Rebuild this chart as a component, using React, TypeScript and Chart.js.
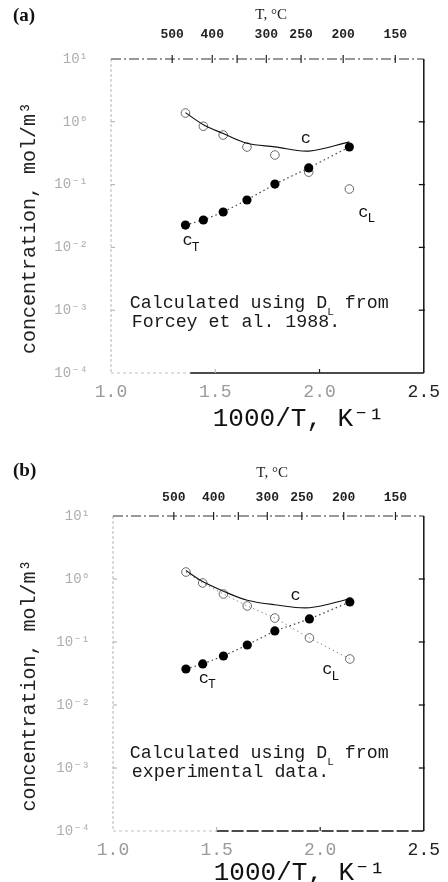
import React, { useEffect, useRef } from 'react';
import { Chart, registerables } from 'chart.js';

Chart.register(...registerables);
Chart.defaults.font.family = "'Liberation Mono', 'DejaVu Sans Mono', monospace";

// ---------- data ----------
// panel (a): D_L from Forcey et al. 1988
const X_A = [1.357, 1.443, 1.538, 1.652, 1.786, 1.948, 2.143];
const CT_A = [0.0227, 0.0273, 0.0366, 0.0569, 0.102, 0.184, 0.397];
const CL_A = [1.38, 0.85, 0.616, 0.397, 0.296, 0.158, 0.085];
const C_A = [1.4, 0.9, 0.65, 0.455, 0.4, 0.342, 0.48];

// panel (b): D_L from experimental data
const X_B = [1.352, 1.433, 1.533, 1.648, 1.781, 1.948, 2.143];
const CT_B = [0.0373, 0.0448, 0.06, 0.0896, 0.15, 0.232, 0.432];
const CL_B = [1.29, 0.865, 0.578, 0.373, 0.24, 0.116, 0.0537];
const C_B = [1.36, 0.91, 0.64, 0.46, 0.39, 0.35, 0.486];

// axes
const BOTTOM_TICKS = [1.0, 1.5, 2.0, 2.5];
const BOTTOM_LABELS = ['1.0', '1.5', '2.0', '2.5'];
const TOP_TEMPS_C = [500, 400, 350, 300, 250, 200, 150];
const TOP_LABELS = ['500', '400', '', '300', '250', '200', '150'];
const Y_TICKS = [1e-4, 1e-3, 1e-2, 1e-1, 1, 10];
const Y_LABELS = ['10⁻⁴', '10⁻³', '10⁻²', '10⁻¹', '10⁰', '10¹'];

// curve labels [x, y] in data units
const LBL_C_A = [1.91, 0.55];
const LBL_CL_A = [2.186, 0.0366];
const LBL_CT_A = [1.343, 0.0127];
const LBL_C_B = [1.857, 0.557];
const LBL_CL_B = [2.01, 0.036];
const LBL_CT_B = [1.414, 0.0268];

const NOTE_LINE1 = ['Calculated using D', 'L', ' from'];
const NOTE_A = 'Forcey et al. 1988.';
const NOTE_B = 'experimental data.';
const NOTE_POS_A = [1.09, 1.3e-3];
const NOTE_POS_B = [1.081, 1.7e-3];

const MONO = "'Liberation Mono', 'DejaVu Sans Mono', monospace";

const framePlugin = {
  id: 'frame',
  afterDraw(chart: any, _args: any, opts: any) {
    const { ctx, chartArea } = chart;
    const { left, right, top, bottom } = chartArea;
    const xs = chart.scales.x;
    const ys = chart.scales.y;
    const seg = (x1: number, y1: number, x2: number, y2: number) => {
      ctx.beginPath();
      ctx.moveTo(x1, y1);
      ctx.lineTo(x2, y2);
      ctx.stroke();
    };
    ctx.save();
    // left axis (faint, dashed)
    ctx.strokeStyle = '#b5b5b5';
    ctx.lineWidth = 1;
    ctx.setLineDash([3, 2]);
    seg(left, top, left, bottom);
    // top axis (dash-dot)
    ctx.strokeStyle = '#333';
    ctx.lineWidth = 1.2;
    ctx.setLineDash([10, 3, 2, 3]);
    seg(left, top, right, top);
    // right axis
    ctx.setLineDash([]);
    ctx.strokeStyle = '#111';
    ctx.lineWidth = 1.5;
    seg(right, top, right, bottom);
    // bottom axis
    const xSolid = xs.getPixelForValue(opts.solidFrom);
    ctx.strokeStyle = '#c0c0c0';
    ctx.lineWidth = 1;
    ctx.setLineDash([3, 3]);
    seg(left, bottom, xSolid, bottom);
    ctx.strokeStyle = '#111';
    ctx.lineWidth = 1.3;
    ctx.setLineDash(opts.bottomDash);
    seg(xSolid, bottom, right, bottom);
    ctx.setLineDash([]);

    // ticks
    Y_TICKS.forEach((v) => {
      const py = ys.getPixelForValue(v);
      if (py > top + 1 && py < bottom - 1) {
        ctx.strokeStyle = '#111';
        ctx.lineWidth = 1.3;
        seg(right - 5, py, right + 1, py);
        ctx.strokeStyle = '#aaa';
        ctx.lineWidth = 1;
        seg(left, py, left + 4, py);
      }
    });
    ctx.strokeStyle = '#222';
    ctx.lineWidth = 1.2;
    TOP_TEMPS_C.forEach((t) => {
      const px = xs.getPixelForValue(1000 / (t + 273.15));
      seg(px, top - 4, px, top + 4);
    });
    [1.5, 2.0].forEach((v) => {
      const px = xs.getPixelForValue(v);
      ctx.strokeStyle = v === 2.0 ? '#222' : '#bbb';
      seg(px, bottom, px, bottom - 4);
    });

    // curve labels
    ctx.fillStyle = '#111';
    ctx.textBaseline = 'middle';
    ctx.textAlign = 'left';
    (opts.labels || []).forEach((l: any) => {
      const px = xs.getPixelForValue(l.pos[0]);
      const py = ys.getPixelForValue(l.pos[1]);
      ctx.font = `17px ${MONO}`;
      ctx.fillText(l.text, px, py);
      if (l.sub) {
        const w = ctx.measureText(l.text).width;
        ctx.font = `13px ${MONO}`;
        ctx.fillText(l.sub, px + w - 1, py + 7);
      }
    });

    // note
    const n = opts.note;
    if (n) {
      const nx = xs.getPixelForValue(n.pos[0]);
      const ny = ys.getPixelForValue(n.pos[1]);
      ctx.fillStyle = '#1a1a1a';
      ctx.font = `18.3px ${MONO}`;
      ctx.fillText(n.line1[0], nx, ny);
      let cx = nx + ctx.measureText(n.line1[0]).width;
      ctx.font = `11px ${MONO}`;
      ctx.fillText(n.line1[1], cx, ny + 9);
      cx += ctx.measureText(n.line1[1]).width;
      ctx.font = `18.3px ${MONO}`;
      ctx.fillText(n.line1[2], cx, ny);
      ctx.fillText(n.line2, nx + 2, ny + 19);
    }
    ctx.restore();
  },
};

const pts = (xs: number[], ys: number[]) => xs.map((x, i) => ({ x, y: ys[i] }));

type PanelCfg = {
  x: number[];
  ct: number[];
  cl: number[];
  c: number[];
  clLine: boolean;
  lay: {
    yWidth: number;
    topHeight: number;
    bottomHeight: number;
    padRight: number;
    topTitlePad: number;
    topTickPad: number;
    bottomTitlePad: number;
  };
  labels: any[];
  note: any;
  solidFrom: number;
  bottomDash: number[];
};

function buildConfig(p: PanelCfg): any {
  const L = p.lay;
  return {
    type: 'line',
    data: {
      datasets: [
        {
          label: 'cT',
          data: pts(p.x, p.ct),
          borderColor: '#444',
          borderWidth: 1.2,
          borderDash: [1.5, 3],
          pointRadius: 4.6,
          pointBackgroundColor: '#000',
          pointBorderColor: '#000',
          pointBorderWidth: 0,
          tension: 0,
        },
        {
          label: 'c',
          data: pts(p.x, p.c),
          borderColor: '#111',
          borderWidth: 1.2,
          pointRadius: 0,
          tension: 0.35,
        },
        {
          label: 'cL',
          data: pts(p.x, p.cl),
          showLine: p.clLine,
          borderColor: '#888',
          borderWidth: 1,
          borderDash: [1.5, 3],
          pointRadius: 4.3,
          pointBackgroundColor: 'rgba(255,255,255,0)',
          pointBorderColor: '#666',
          pointBorderWidth: 1,
          tension: 0,
        },
      ],
    },
    options: {
      animation: false,
      responsive: false,
      devicePixelRatio: 1,
      layout: { padding: { left: 0, top: 0, bottom: 0, right: L.padRight } },
      plugins: {
        legend: { display: false },
        tooltip: { enabled: false },
        frame: { labels: p.labels, note: p.note, solidFrom: p.solidFrom, bottomDash: p.bottomDash },
      },
      scales: {
        x: {
          type: 'linear',
          position: 'bottom',
          min: 1.0,
          max: 2.5,
          afterBuildTicks: (s: any) => {
            s.ticks = BOTTOM_TICKS.map((v) => ({ value: v }));
          },
          ticks: {
            callback: (_v: any, i: number) => BOTTOM_LABELS[i],
            color: (c: any) => (c.index === 3 ? '#222' : '#9a9a9a'),
            font: { family: MONO, size: 18 },
            padding: 8,
            maxRotation: 0,
            autoSkip: false,
          },
          grid: { display: false, drawTicks: false },
          border: { display: false },
          title: {
            display: true,
            text: '\u00a0\u00a0\u00a0\u00a01000/T, K⁻¹',
            color: '#111',
            font: { family: MONO, size: 26 },
            padding: { top: 0, bottom: L.bottomTitlePad },
          },
          afterFit: (s: any) => {
            s.height = L.bottomHeight;
          },
        },
        x2: {
          type: 'linear',
          position: 'top',
          min: 1.0,
          max: 2.5,
          afterBuildTicks: (s: any) => {
            s.ticks = TOP_TEMPS_C.map((t) => ({ value: 1000 / (t + 273.15) }));
          },
          ticks: {
            callback: (_v: any, i: number) => TOP_LABELS[i],
            color: '#222',
            font: { family: MONO, size: 13, weight: 'bold' },
            padding: L.topTickPad,
            maxRotation: 0,
            autoSkip: false,
          },
          grid: { display: false, drawTicks: false },
          border: { display: false },
          title: {
            display: true,
            text: '\u00a0\u00a0T, °C',
            color: '#222',
            font: { family: "'Liberation Serif', serif", size: 15 },
            padding: { top: L.topTitlePad, bottom: 0 },
          },
          afterFit: (s: any) => {
            s.height = L.topHeight;
          },
        },
        y: {
          type: 'logarithmic',
          position: 'left',
          min: 1e-4,
          max: 10,
          afterBuildTicks: (s: any) => {
            s.ticks = Y_TICKS.map((v) => ({ value: v }));
          },
          ticks: {
            callback: (_v: any, i: number) => Y_LABELS[i],
            color: '#adadad',
            font: { family: MONO, size: 14 },
            padding: 23,
            autoSkip: false,
          },
          grid: { display: false, drawTicks: false },
          border: { display: false },
          title: {
            display: true,
            text: 'concentration, mol/m³\u00a0\u00a0',
            color: '#222',
            font: { family: MONO, size: 20 },
            padding: { top: 18, bottom: 0 },
          },
          afterFit: (s: any) => {
            s.width = L.yWidth;
          },
        },
      },
    },
    plugins: [framePlugin],
  };
}

const PANEL_A: PanelCfg = {
  x: X_A,
  ct: CT_A,
  cl: CL_A,
  c: C_A,
  clLine: false,
  lay: { yWidth: 111, topHeight: 59, bottomHeight: 68, padRight: 22, topTitlePad: 6, topTickPad: 16, bottomTitlePad: 6 },
  labels: [
    { pos: LBL_C_A, text: 'c' },
    { pos: LBL_CL_A, text: 'c', sub: 'L' },
    { pos: LBL_CT_A, text: 'c', sub: 'T' },
  ],
  note: { pos: NOTE_POS_A, line1: NOTE_LINE1, line2: NOTE_A },
  solidFrom: 1.38,
  bottomDash: [],
};

const PANEL_B: PanelCfg = {
  x: X_B,
  ct: CT_B,
  cl: CL_B,
  c: C_B,
  clLine: true,
  lay: { yWidth: 113, topHeight: 75, bottomHeight: 51, padRight: 20, topTitlePad: 23, topTickPad: 10, bottomTitlePad: -7 },
  labels: [
    { pos: LBL_C_B, text: 'c' },
    { pos: LBL_CL_B, text: 'c', sub: 'L' },
    { pos: LBL_CT_B, text: 'c', sub: 'T' },
  ],
  note: { pos: NOTE_POS_B, line1: NOTE_LINE1, line2: NOTE_B },
  solidFrom: 1.5,
  bottomDash: [12, 3],
};

function Panel({ cfg, top }: { cfg: PanelCfg; top: number }) {
  const ref = useRef<HTMLCanvasElement>(null);
  useEffect(() => {
    const chart = new Chart(ref.current as HTMLCanvasElement, buildConfig(cfg));
    return () => chart.destroy();
  }, [cfg]);
  return (
    <canvas
      ref={ref}
      width={448}
      height={441}
      style={{ position: 'absolute', left: 0, top, display: 'block', width: 448, height: 441 }}
    />
  );
}

const letterStyle: React.CSSProperties = {
  position: 'absolute',
  left: 13,
  fontFamily: "'Liberation Serif', serif",
  fontWeight: 'bold',
  fontSize: 19,
  lineHeight: '19px',
  color: '#111',
};

export default function App() {
  return (
    <div style={{ position: 'absolute', left: 0, top: 0, width: 448, height: 882, background: '#fff', overflow: 'hidden' }}>
      <Panel cfg={PANEL_A} top={0} />
      <Panel cfg={PANEL_B} top={441} />
      <div style={{ ...letterStyle, top: 5 }}>(a)</div>
      <div style={{ ...letterStyle, top: 460 }}>(b)</div>
    </div>
  );
}
